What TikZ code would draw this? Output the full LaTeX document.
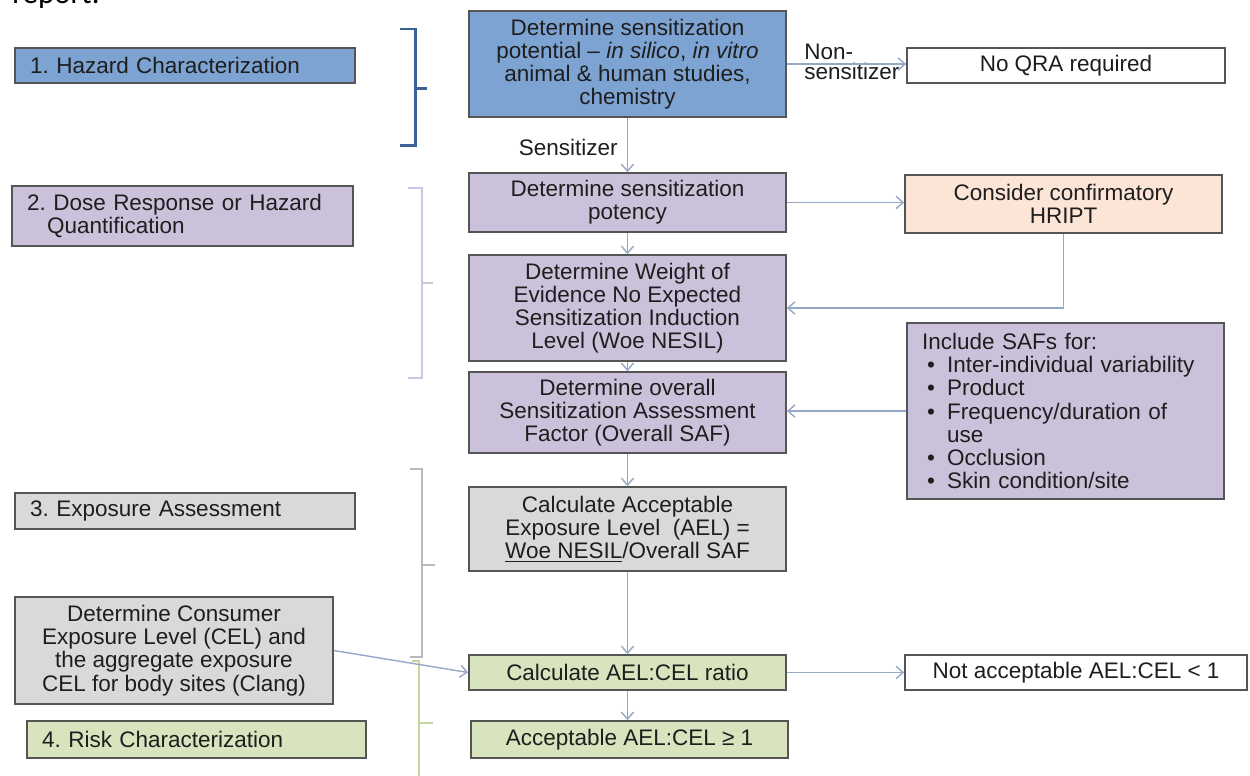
\documentclass[tikz,border=0pt]{standalone}
\usepackage{fontspec}
\setmainfont{Liberation Sans}
\newfontfamily\bodyfont{Carlito}
\usetikzlibrary{arrows.meta}
\frenchspacing

\definecolor{hazblue}{RGB}{125,163,210}
\definecolor{hazbrk}{RGB}{58,98,150}
\definecolor{dosepurple}{RGB}{204,193,218}
\definecolor{dosebrk}{RGB}{206,198,222}
\definecolor{expogray}{RGB}{217,217,217}
\definecolor{expobrk}{RGB}{185,185,185}
\definecolor{riskgreen}{RGB}{215,228,189}
\definecolor{riskbrk}{RGB}{196,214,160}
\definecolor{hriptpeach}{RGB}{252,229,214}
\definecolor{boxedge}{RGB}{85,85,85}
\definecolor{flow}{RGB}{150,168,200}
\definecolor{ink}{RGB}{30,30,30}

\tikzset{
    box/.style={draw=boxedge, line width=1pt, align=center, inner sep=0pt, text=ink,
        font=\fontsize{12.8}{13.2}\selectfont},
    sz/.style 2 args={minimum width=#1*0.02cm, minimum height=#2*0.02cm},
    phase/.style={box, align=left, text width=#1, inner xsep=0.3cm},
    flowline/.style={draw=flow, line width=0.8pt, -{Straight Barb[length=4pt,width=7pt]}},
    lbl/.style={text=ink, font=\fontsize{12.8}{11.3}\selectfont, inner sep=0pt}
}

\begin{document}
\begin{tikzpicture}[x=0.02cm, y=-0.02cm]

    \useasboundingbox (0,0) rectangle (1250,775);
    \clip (0,0) rectangle (1250,775);

    % Cut-off line of the page above
    \node[anchor=base west, inner sep=0pt, font=\bodyfont\fontsize{17.6}{20}\selectfont] (rep) at (12,3) {report.};

    % Phases on the left
    \node[phase=6.2cm, fill=hazblue, minimum height=0.7cm] (haz) at (185,65.5) {1. Hazard Characterization};
    \node[phase=6.22cm, fill=dosepurple, minimum height=1.2cm] (dose) at (182.5,216)
        {2. Dose Response or Hazard\\\hspace*{0.4cm}Quantification};
    \node[phase=6.2cm, fill=expogray, minimum height=0.72cm] (expo) at (185,511) {3. Exposure Assessment};
    \node[box, sz={318}{107}, fill=expogray] (cel) at (174,650.5)
        {Determine Consumer\\Exposure Level (CEL) and\\the aggregate exposure\\CEL for body sites (Clang)};
    \node[phase=6.18cm, fill=riskgreen, minimum height=0.74cm] (risk) at (196.5,739.5) {4. Risk Characterization};

    % Brackets
    \draw[hazbrk, line width=1.7pt] (400,29) -- (415,29) -- (415,145) -- (400,145) (415,88) -- (427,88);
    \draw[dosebrk, line width=1.3pt] (408,188) -- (422,188) -- (422,378) -- (408,378) (422,283) -- (433,283);
    \draw[expobrk, line width=1.3pt] (410,469) -- (422,469) -- (422,657) -- (410,657) (422,565) -- (435,565);
    \draw[riskbrk, line width=1.5pt] (412,661) -- (419,661) -- (419,780) (419,723) -- (433,723);

    % Main column
    \node[box, sz={317}{106}, fill=hazblue] (pot) at (627.5,64)
        {Determine sensitization\\potential -- \textit{in silico}, \textit{in vitro}\\animal \& human studies,\\chemistry};
    \node[box, sz={317}{59}, fill=dosepurple] (potency) at (627.5,202.5)
        {Determine sensitization\\potency};
    \node[box, sz={317}{106}, fill=dosepurple] (woe) at (627.5,308)
        {Determine Weight of\\Evidence No Expected\\Sensitization Induction\\Level (Woe NESIL)};
    \node[box, sz={317}{81}, fill=dosepurple] (saf) at (627.5,412.5)
        {Determine overall\\Sensitization Assessment\\Factor (Overall SAF)};
    \node[box, sz={317}{84}, fill=expogray] (ael) at (627.5,529)
        {Calculate Acceptable\\Exposure Level~ (AEL) =\\\underline{Woe NESIL}/Overall SAF};
    \node[box, sz={317}{35}, fill=riskgreen] (ratio) at (627.5,672.5) {Calculate AEL:CEL ratio};
    \node[box, sz={317}{37}, fill=riskgreen] (accept) at (629.5,739.5) {Acceptable AEL:CEL ≥ 1};

    % Right column
    \node[box, sz={318}{35}, fill=white] (noqra) at (1066,65.5) {No QRA required};
    \node[box, sz={317}{58}, fill=hriptpeach] (hript) at (1063.5,204) {Consider confirmatory\\HRIPT};
    \node[phase=5.74cm, fill=dosepurple, minimum height=3.52cm] (incl) at (1065.5,411)
        {Include SAFs for:\\
         \hspace*{0.1cm}\makebox[0.4cm][l]{\textbullet}Inter-individual variability\\
         \hspace*{0.1cm}\makebox[0.4cm][l]{\textbullet}Product\\
         \hspace*{0.1cm}\makebox[0.4cm][l]{\textbullet}Frequency/duration of\\
         \hspace*{0.5cm}use\\
         \hspace*{0.1cm}\makebox[0.4cm][l]{\textbullet}Occlusion\\
         \hspace*{0.1cm}\makebox[0.4cm][l]{\textbullet}Skin condition/site};
    \node[box, sz={342}{35}, fill=white] (notacc) at (1076,672.5) {Not acceptable AEL:CEL < 1};

    % Labels on the first decision
    \node[lbl, anchor=east] (sens) at (618,147) {Sensitizer};
    \node[lbl, anchor=west, align=left] (nonsens) at (804,62) {Non-\\sensitizer};

    % Connectors
    \draw[flowline] (pot) -- (potency);
    \draw[flowline] (pot.east) -- (pot.east -| noqra.west);
    \draw[flowline] (potency.east) -- (potency.east -| hript.west);
    \draw[flowline] (potency) -- (woe);
    \draw[flowline] (hript.south) |- (woe.east);
    \draw[flowline] (woe) -- (saf);
    \draw[flowline] (incl.west) -- (incl.west -| saf.east);
    \draw[flowline] (saf) -- (ael);
    \draw[flowline] (ael) -- (ratio);
    \draw[flowline] (cel.east) -- (ratio.west);
    \draw[flowline] (ratio.south) -- (ratio.south |- accept.north);
    \draw[flowline] (ratio) -- (notacc);
\end{tikzpicture}
\end{document}
